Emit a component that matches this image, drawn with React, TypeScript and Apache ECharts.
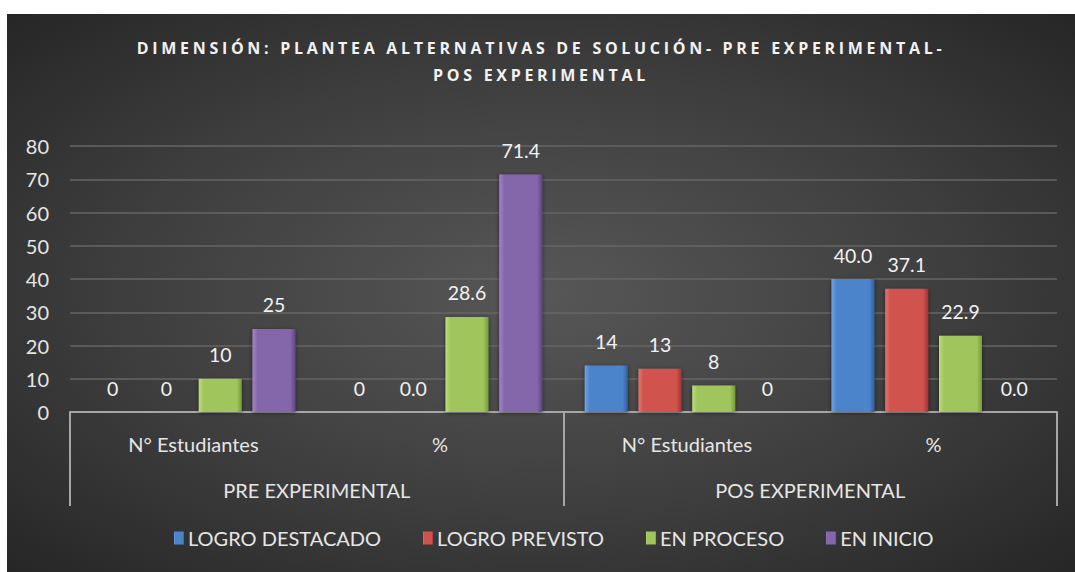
import React, { useEffect, useRef } from "react";
import * as echarts from "echarts";

const titleText = "DIMENSIÓN: PLANTEA ALTERNATIVAS DE SOLUCIÓN- PRE EXPERIMENTAL-\nPOS EXPERIMENTAL";
const categories = ["N° Estudiantes", "%", "N° Estudiantes", "%"];
const groups = ["PRE EXPERIMENTAL", "POS EXPERIMENTAL"];
const seriesNames = ["LOGRO DESTACADO", "LOGRO PREVISTO", "EN PROCESO", "EN INICIO"];
const logroDestacado = [0, 0, 14, 40.0];
const logroPrevisto = [0, 0.0, 13, 37.1];
const enProceso = [10, 28.6, 8, 22.9];
const enInicio = [25, 71.4, 0, 0.0];
const logroDestacadoLabels = ["0", "0", "14", "40.0"];
const logroPrevistoLabels = ["0", "0.0", "13", "37.1"];
const enProcesoLabels = ["10", "28.6", "8", "22.9"];
const enInicioLabels = ["25", "71.4", "0", "0.0"];
const yTicks = [0, 10, 20, 30, 40, 50, 60, 70, 80];

const palette = [
  { light: "#6fa3e4", base: "#4c84ca", dark: "#2f5f9e" },
  { light: "#e6746f", base: "#d0524e", dark: "#9c3532" },
  { light: "#bddc7c", base: "#9fc55b", dark: "#769a3c" },
  { light: "#a286c6", base: "#8466aa", dark: "#5e4580" },
];

const FONT = "Lato, 'Noto Sans', sans-serif";
const TITLE_FONT = "'Open Sans', 'Noto Sans', sans-serif";

export default function App() {
  const ref = useRef<HTMLDivElement>(null);
  useEffect(() => {
    if (!ref.current) return;
    const chart = echarts.init(ref.current, null, { renderer: "svg" });
    const values = [logroDestacado, logroPrevisto, enProceso, enInicio];
    const labels = [logroDestacadoLabels, logroPrevistoLabels, enProcesoLabels, enInicioLabels];
    const series = values.map((vals, i) => ({
      name: seriesNames[i],
      type: "bar",
      xAxisIndex: 0,
      data: vals,
      barWidth: 43,
      barGap: "25%",
      itemStyle: {
        color: new echarts.graphic.LinearGradient(0, 0, 1, 0, [
          { offset: 0, color: palette[i].light },
          { offset: 0.12, color: palette[i].base },
          { offset: 0.88, color: palette[i].base },
          { offset: 1, color: palette[i].dark },
        ]),
        shadowColor: "rgba(0,0,0,0.5)",
        shadowBlur: 4,
        shadowOffsetY: 1,
      },
      label: {
        show: true,
        position: "top",
        distance: 14,
        color: "#f2f2f2",
        fontFamily: FONT,
        fontSize: 19.5,
        formatter: (p: any) => labels[i][p.dataIndex],
      },
    }));

    chart.setOption({
      animation: false,
      backgroundColor: "transparent",
      title: {
        text: titleText,
        left: "center",
        top: 15,
        textStyle: {
          color: "#f2f2f2",
          fontFamily: TITLE_FONT,
          fontWeight: "bold",
          fontSize: 16,
          lineHeight: 27,
        },
      },
      legend: {
        bottom: 19,
        left: 162,
        itemWidth: 10,
        itemHeight: 13,
        itemGap: 42,
        icon: "rect",
        data: seriesNames,
        textStyle: { color: "#e6e6e6", fontFamily: FONT, fontSize: 20, padding: [0, 0, 0, -1] },
      },
      grid: { left: 63, right: 18, top: 132, bottom: 160, containLabel: false },
      xAxis: [
        {
          type: "category",
          data: categories,
          position: "bottom",
          offset: 0,
          axisLine: { show: true, lineStyle: { color: "#a6a6a6", width: 2 } },
          axisTick: { show: false },
          axisLabel: { color: "#e6e6e6", fontFamily: FONT, fontSize: 20, margin: 22 },
        },
        {
          type: "category",
          data: groups,
          position: "bottom",
          offset: 0,
          axisLine: { show: false },
          axisTick: { show: true, length: 94, lineStyle: { color: "#a6a6a6", width: 2 } },
          axisLabel: { color: "#e6e6e6", fontFamily: FONT, fontSize: 20, margin: 68 },
        },
      ],
      yAxis: {
        type: "value",
        min: yTicks[0],
        max: yTicks[yTicks.length - 1],
        interval: 10,
        axisLine: { show: false },
        axisTick: { show: false },
        axisLabel: { color: "#e6e6e6", fontFamily: FONT, fontSize: 20, margin: 21 },
        splitLine: { lineStyle: { color: "#666666", width: 1.5 } },
      },
      series,
    });

    const applySpacing = () => {
      ref.current?.querySelectorAll("text").forEach((t) => {
        const st = t.getAttribute("style") || "";
        if (st.includes("Open Sans")) t.setAttribute("letter-spacing", "3.7");
      });
    };
    applySpacing();
    chart.on("finished", applySpacing);
    const raf = requestAnimationFrame(applySpacing);
    return () => {
      cancelAnimationFrame(raf);
      chart.dispose();
    };
  }, []);

  return (
    <div
      ref={ref}
      style={{
        position: "absolute",
        left: 7,
        top: 14,
        width: 1068,
        height: 558,
        background: "radial-gradient(ellipse at 50% 50%, #575757 0%, #3e3e3e 55%, #262626 100%)",
      }}
    />
  );
}
